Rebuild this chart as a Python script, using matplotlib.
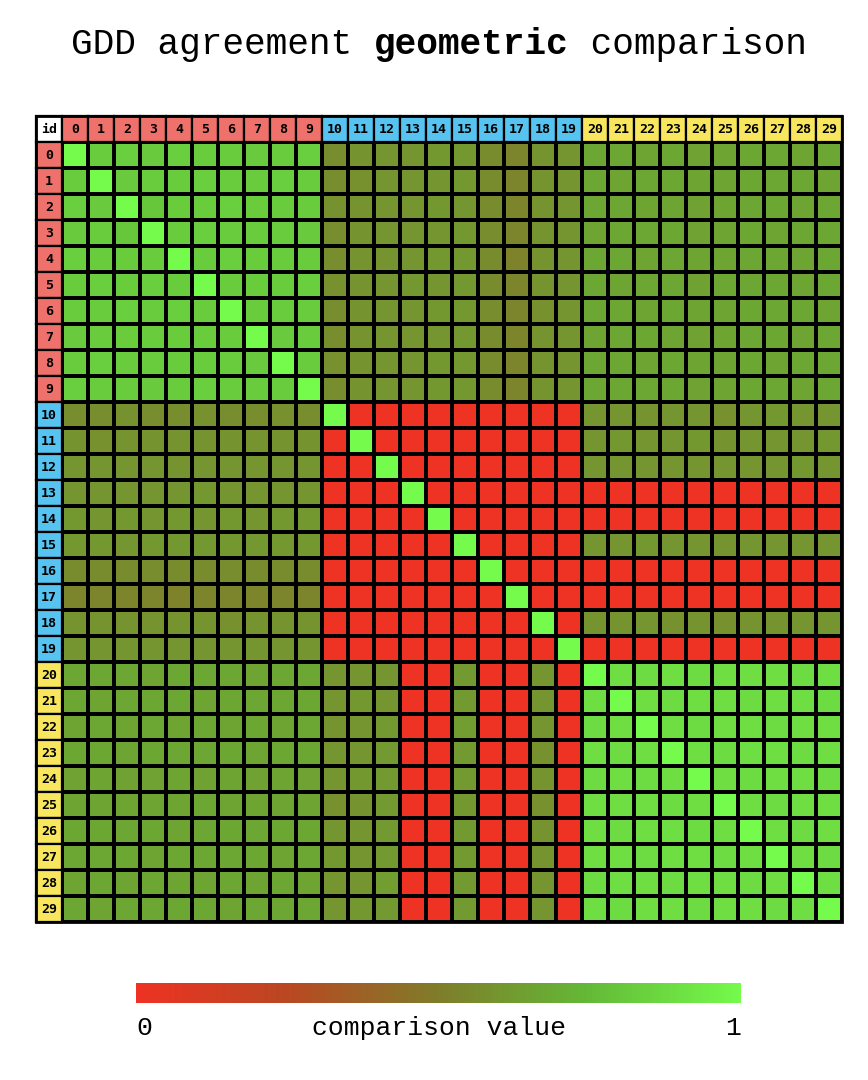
import numpy as np
import matplotlib
matplotlib.use("Agg")
import matplotlib.pyplot as plt
from matplotlib.colors import LinearSegmentedColormap
from matplotlib.patches import Rectangle

# ---------------- data ----------------
ids = [str(i) for i in range(30)]
group_of = ["A"] * 10 + ["B"] * 10 + ["C"] * 10
group_colors = {"A": "#EF716B", "B": "#56C3F0", "C": "#F8E75E"}

# comparison values in percent (row = id, column = id)
values_pct = [
    [100,82,83,81,83,82,82,81,82,83, 57,59,60,60,61,61,56,53,59,60, 67,67,66,67,65,66,67,67,66,67],
    [82,100,81,82,82,83,82,82,83,82, 57,58,60,60,60,61,56,53,59,60, 67,66,67,67,66,66,67,67,67,66],
    [83,81,100,80,82,82,83,82,82,82, 58,59,60,60,61,60,56,53,59,60, 67,67,66,66,65,66,67,67,66,67],
    [81,82,80,100,82,83,82,82,82,81, 57,59,60,60,60,61,57,53,59,60, 66,67,67,67,65,66,67,66,67,67],
    [83,82,82,82,100,82,83,82,82,82, 57,59,59,60,61,61,56,52,59,60, 67,67,66,67,66,66,67,67,66,67],
    [82,83,82,83,82,100,82,82,82,83, 58,59,60,61,60,61,56,53,59,60, 67,66,67,67,65,67,67,67,66,67],
    [82,82,83,82,83,82,100,82,82,82, 57,59,60,60,61,61,57,53,58,60, 67,67,66,67,66,66,67,67,67,66],
    [81,82,82,82,82,82,82,100,81,82, 57,59,60,60,60,61,56,53,59,60, 66,67,67,66,65,66,67,67,66,67],
    [82,83,82,82,82,82,82,81,100,82, 58,59,60,60,61,61,56,53,59,60, 67,67,66,67,66,66,67,66,67,67],
    [83,82,82,81,82,83,82,82,82,100, 57,59,60,60,61,61,56,53,59,60, 67,67,67,67,65,66,67,67,66,67],
    [57,57,58,57,57,58,57,57,58,57, 100,0,0,0,0,0,0,0,0,0, 60,60,59,60,60,58,60,61,60,60],
    [59,58,59,59,59,59,59,59,59,59, 0,100,0,0,0,0,0,0,0,0, 60,61,60,60,61,59,60,60,60,61],
    [60,60,60,60,59,60,60,60,60,60, 0,0,100,0,0,0,0,0,0,0, 60,60,60,60,60,60,60,60,61,60],
    [60,60,60,60,60,61,60,60,60,60, 0,0,0,100,0,0,0,0,0,0, 0,0,0,0,0,0,0,0,0,0],
    [61,60,61,60,61,60,61,60,61,61, 0,0,0,0,100,0,0,0,0,0, 0,0,0,0,0,0,0,0,0,0],
    [61,61,60,61,61,61,61,61,61,61, 0,0,0,0,0,100,0,0,0,0, 60,60,61,60,60,59,60,60,60,60],
    [56,56,56,57,56,56,57,56,56,56, 0,0,0,0,0,0,100,0,0,0, 0,0,0,0,0,0,0,0,0,0],
    [53,53,53,53,52,53,53,53,53,53, 0,0,0,0,0,0,0,100,0,0, 0,0,0,0,0,0,0,0,0,0],
    [59,59,59,59,59,59,58,59,59,59, 0,0,0,0,0,0,0,0,100,0, 59,59,60,58,59,58,59,59,60,60],
    [60,60,60,60,60,60,60,60,60,60, 0,0,0,0,0,0,0,0,0,100, 0,0,0,0,0,0,0,0,0,0],
    [67,67,67,66,67,67,67,66,67,67, 60,60,60,0,0,62,0,0,60,0, 100,89,88,89,88,89,89,89,88,89],
    [67,66,67,67,67,66,67,67,67,67, 60,61,60,0,0,62,0,0,60,0, 89,100,89,88,89,89,88,89,89,88],
    [66,67,66,67,66,67,66,67,66,67, 59,60,62,0,0,63,0,0,60,0, 88,89,100,89,88,89,89,88,89,89],
    [67,67,66,67,67,67,67,66,67,67, 60,60,62,0,0,62,0,0,58,0, 89,88,89,100,89,88,89,89,88,89],
    [65,66,65,65,66,65,66,65,66,65, 60,61,62,0,0,62,0,0,59,0, 88,89,88,89,100,89,88,89,89,88],
    [66,66,66,66,66,67,66,66,66,66, 58,59,62,0,0,61,0,0,58,0, 89,89,89,88,89,100,89,88,89,89],
    [67,67,67,67,66,67,67,67,67,67, 60,60,62,0,0,62,0,0,59,0, 89,88,89,89,88,89,100,89,88,89],
    [67,67,67,66,67,67,67,67,66,67, 61,60,62,0,0,62,0,0,59,0, 89,89,88,89,89,88,89,100,89,88],
    [66,67,66,67,66,66,67,66,67,66, 60,60,63,0,0,62,0,0,60,0, 88,89,89,88,89,89,88,89,100,89],
    [67,66,67,67,67,67,66,67,67,67, 60,61,62,0,0,62,0,0,60,0, 89,88,89,89,88,89,89,88,89,100],
]
values = np.array(values_pct, dtype=float) / 100.0

# colour scale (value 0 -> red, 1 -> bright green)
cmap_stops = [0.0, 0.25, 0.5, 0.75, 1.0]
cmap_colors = ["#EE3224", "#BA4822", "#7F7D2A", "#64BA37", "#75FB4C"]
cmap = LinearSegmentedColormap.from_list("cmp", list(zip(cmap_stops, cmap_colors)))

# ---------------- figure ----------------
W, H = 868, 1080
fig = plt.figure(figsize=(W / 100, H / 100), dpi=100)
fig.patch.set_facecolor("white")

mono = "Liberation Mono"
lw = 1.6

# title (mixed weight, monospace)
title_parts = [("GDD agreement ", "normal"), ("geometric", "bold"), (" comparison", "normal")]
fs_title = 26
adv = 0.6 * fs_title * 100 / 72  # px per char
total_chars = sum(len(t) for t, _ in title_parts)
x_px = 439 - total_chars * adv / 2
for txt, wt in title_parts:
    fig.text(x_px / W, 1 - 44 / H, txt, fontsize=fs_title, family=mono,
             weight=wt, ha="left", va="center")
    x_px += len(txt) * adv

# heat-map axes (includes header row / column)
n = len(ids)
ax = fig.add_axes([36 / W, 1 - 922 / H, 806 / W, 806 / H])
ax.set_xlim(-1.5, n - 0.5)
ax.set_ylim(n - 0.5, -1.5)
ax.axis("off")

edges = np.arange(n + 1) - 0.5
ax.pcolormesh(edges, edges, values, cmap=cmap, vmin=0, vmax=1,
              edgecolors="black", linewidth=lw)

# header cells
def header_cell(x, y, color, label):
    ax.add_patch(Rectangle((x - 0.5, y - 0.5), 1, 1, facecolor=color,
                           edgecolor="black", linewidth=lw, zorder=3,
                           clip_on=False))
    ax.text(x, y + 0.02, label, ha="center", va="center", fontsize=9.5,
            family="DejaVu Sans Mono", weight="bold", zorder=4)

header_cell(-1, -1, "white", "id")
for i, lab in enumerate(ids):
    c = group_colors[group_of[i]]
    header_cell(i, -1, c, lab)
    header_cell(-1, i, c, lab)

# outer border
ax.add_patch(Rectangle((-1.5, -1.5), n + 1, n + 1, fill=False,
                       edgecolor="black", linewidth=lw + 0.4, zorder=5,
                       clip_on=False))

# colour bar
cax = fig.add_axes([136 / W, 1 - 1003 / H, 605 / W, 20 / H])
grad = np.linspace(0, 1, 512)[None, :]
cax.imshow(grad, aspect="auto", cmap=cmap, vmin=0, vmax=1,
           extent=[0, 1, 0, 1])
cax.axis("off")

fs_lab = 19
ylab = 1 - 1028 / H
fig.text(136 / W, ylab, "0", fontsize=fs_lab, family=mono, ha="left", va="center")
fig.text(741 / W, ylab, "1", fontsize=fs_lab, family=mono, ha="right", va="center")
fig.text(439 / W, ylab, "comparison value", fontsize=fs_lab, family=mono,
         ha="center", va="center")

fig.savefig("out.png", dpi=100, facecolor="white")
